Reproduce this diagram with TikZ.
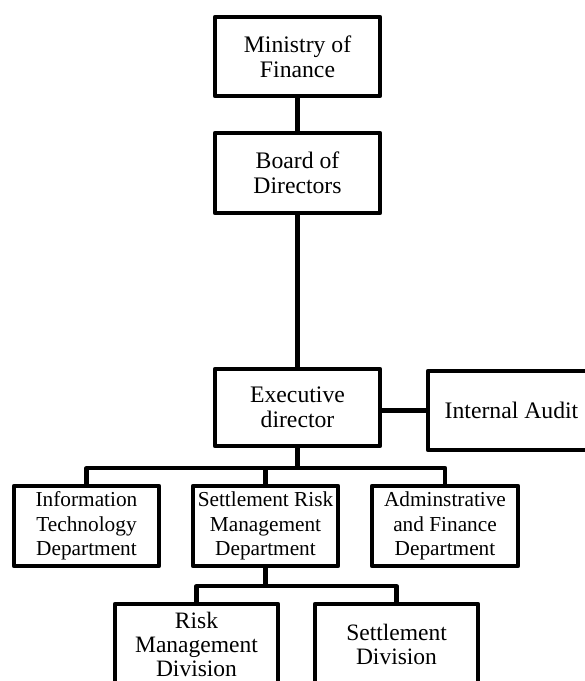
\documentclass[tikz,border=0pt]{standalone}
\usepackage{fontspec}
\setmainfont{Liberation Serif}
\begin{document}
\begin{tikzpicture}[x=1bp,y=-1bp,
  conn/.style={draw, line width=4.2bp, line join=round},
  box/.style={draw, line width=4.2bp, line join=round, fill=white, align=center, inner sep=0pt},
  big/.style={font=\fontsize{23.7bp}{25bp}\selectfont},
  mid/.style={font=\fontsize{21.3bp}{24.5bp}\selectfont},
  low/.style={font=\fontsize{23.5bp}{24bp}\selectfont}]
\useasboundingbox (0,0) rectangle (585,681);
\clip (0,0) rectangle (585,681);
\fill[white] (0,0) rectangle (585,681);
\coordinate (b1) at (297.5,468);
\coordinate (b2) at (265.5,586);
\node[box,big,minimum width=165bp,minimum height=79bp] (mof) at (297.5,56.5) {Ministry of\\Finance};
\node[box,big,minimum width=165bp,minimum height=80bp] (board) at (297.5,173) {Board of\\Directors};
\node[box,big,minimum width=165bp,minimum height=77bp] (exec) at (297.5,407.5) {Executive\\director};
\node[box,big,minimum width=167bp,minimum height=79bp] (ia) at (511.5,410.5) {Internal Audit};
\node[box,mid,minimum width=145bp,minimum height=80bp] (it) at (86.5,526) {Information\\Technology\\Department};
\node[box,mid,minimum width=145bp,minimum height=80bp] (srm) at (265.5,526) {Settlement Risk\\Management\\Department};
\node[box,mid,minimum width=146bp,minimum height=80bp] (adm) at (445,526) {Adminstrative\\and Finance\\Department};
\node[box,low,minimum width=163bp,minimum height=81bp] (risk) at (196.5,644.5) {Risk\\Management\\Division};
\node[box,low,minimum width=163bp,minimum height=81bp] (sd) at (396.5,644.5) {Settlement\\Division};
\path[conn] (mof) -- (board);
\path[conn] (board) -- (exec);
\path[conn] (ia.west) -- (ia.west -| exec.east);
\path[conn] (exec.south) -- (b1);
\path[conn] (it.north) |- (b1) -| (adm.north);
\path[conn] (srm.north) -- (srm.north |- b1);
\path[conn] (srm.south) -- (b2);
\path[conn] (risk.north) |- (b2) -| (sd.north);
\end{tikzpicture}
\end{document}
